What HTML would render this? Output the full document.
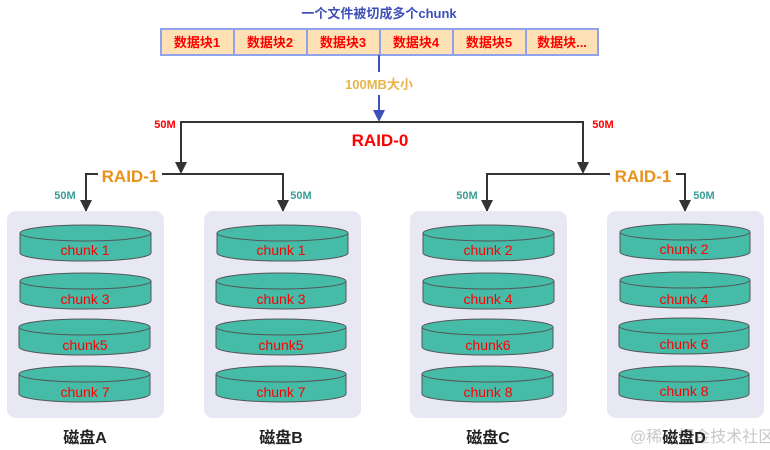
<!DOCTYPE html>
<html><head><meta charset="utf-8"><style>
html,body{margin:0;padding:0;background:#fff;}
svg{display:block;}
text{font-family:"Liberation Sans","Noto Sans CJK SC",sans-serif;}
</style></head><body>
<svg width="770" height="450" viewBox="0 0 770 450" xmlns="http://www.w3.org/2000/svg">
<defs>
<marker id="ab" markerWidth="12" markerHeight="12" refX="6" refY="10" orient="auto" markerUnits="userSpaceOnUse" viewBox="0 0 12 12"><path d="M0,0 L12,0 L6,12 z" fill="#333" transform="rotate(0)"/></marker>
</defs>
<text x="379" y="18" text-anchor="middle" font-size="13" font-weight="bold" fill="#3e4fb8">一个文件被切成多个chunk</text>
<g stroke="#8fa2ee" stroke-width="2" fill="#fde1b4">
<rect x="161" y="29" width="73" height="26"/><rect x="234" y="29" width="73" height="26"/><rect x="307" y="29" width="73" height="26"/><rect x="380" y="29" width="73" height="26"/><rect x="453" y="29" width="73" height="26"/><rect x="526" y="29" width="72" height="26"/>
</g>
<g font-size="13" font-weight="bold" fill="#f00" text-anchor="middle">
<text x="197" y="47">数据块1</text><text x="270" y="47">数据块2</text><text x="343" y="47">数据块3</text><text x="416" y="47">数据块4</text><text x="489" y="47">数据块5</text><text x="562" y="47">数据块...</text>
</g>
<line x1="379" y1="55" x2="379" y2="72" stroke="#3e4fb8" stroke-width="2"/>
<line x1="379" y1="95" x2="379" y2="112" stroke="#3e4fb8" stroke-width="2"/>
<path d="M373,110 L385,110 L379,122 z" fill="#3e4fb8"/>
<text x="379" y="89" text-anchor="middle" font-size="13" font-weight="bold" fill="#e8b54c">100MB大小</text>
<g stroke="#333" stroke-width="2" fill="none">
<path d="M181,172 L181,122 L583,122 L583,172"/>
<path d="M86,211 L86,174 L98,174"/><path d="M162,174 L283,174 L283,211"/>
<path d="M487,211 L487,174 L610,174"/><path d="M676,174 L685,174 L685,211"/>
</g>
<g fill="#333">
<path d="M175,162 L187,162 L181,174 z"/><path d="M577,162 L589,162 L583,174 z"/>
<path d="M80,200 L92,200 L86,212 z"/><path d="M277,200 L289,200 L283,212 z"/>
<path d="M481,200 L493,200 L487,212 z"/><path d="M679,200 L691,200 L685,212 z"/>
</g>
<text x="380" y="146" text-anchor="middle" font-size="17" font-weight="bold" fill="#f00">RAID-0</text>
<text x="165" y="128" text-anchor="middle" font-size="11" font-weight="bold" fill="#f00">50M</text>
<text x="603" y="128" text-anchor="middle" font-size="11" font-weight="bold" fill="#f00">50M</text>
<text x="130" y="182" text-anchor="middle" font-size="17" font-weight="bold" fill="#e8921c">RAID-1</text>
<text x="643" y="182" text-anchor="middle" font-size="17" font-weight="bold" fill="#e8921c">RAID-1</text>
<g font-size="11" font-weight="bold" fill="#3a9e98" text-anchor="middle">
<text x="65" y="199">50M</text><text x="301" y="199">50M</text><text x="467" y="199">50M</text><text x="704" y="199">50M</text>
</g>
<g fill="#e8e8f4">
<rect x="7" y="211" width="157" height="207" rx="9"/><rect x="204" y="211" width="157" height="207" rx="9"/>
<rect x="410" y="211" width="157" height="207" rx="9"/><rect x="607" y="211" width="157" height="207" rx="9"/>
</g>
<g id="cyl" stroke="#444" stroke-width="1" fill="#45bba8">
</g>
<g stroke="#555" stroke-width="1" fill="#45bba8">
<!-- A -->
<path d="M20,233 L20,253 A65,8 0 0 0 151,253 L151,233"/><ellipse cx="85.5" cy="233" rx="65.5" ry="8"/>
<path d="M20,281 L20,301 A65,8 0 0 0 151,301 L151,281"/><ellipse cx="85.5" cy="281" rx="65.5" ry="8"/>
<path d="M19,327 L19,347 A65,8 0 0 0 150,347 L150,327"/><ellipse cx="84.5" cy="327" rx="65.5" ry="8"/>
<path d="M19,374 L19,394 A65,8 0 0 0 150,394 L150,374"/><ellipse cx="84.5" cy="374" rx="65.5" ry="8"/>
<!-- B -->
<path d="M217,233 L217,253 A65,8 0 0 0 348,253 L348,233"/><ellipse cx="282.5" cy="233" rx="65.5" ry="8"/>
<path d="M216,281 L216,301 A65,8 0 0 0 346,301 L346,281"/><ellipse cx="281" cy="281" rx="65" ry="8"/>
<path d="M216,327 L216,347 A65,8 0 0 0 346,347 L346,327"/><ellipse cx="281" cy="327" rx="65" ry="8"/>
<path d="M216,374 L216,394 A65,8 0 0 0 346,394 L346,374"/><ellipse cx="281" cy="374" rx="65" ry="8"/>
<!-- C -->
<path d="M423,233 L423,253 A65,8 0 0 0 554,253 L554,233"/><ellipse cx="488.5" cy="233" rx="65.5" ry="8"/>
<path d="M423,281 L423,301 A65,8 0 0 0 554,301 L554,281"/><ellipse cx="488.5" cy="281" rx="65.5" ry="8"/>
<path d="M422,327 L422,347 A65,8 0 0 0 553,347 L553,327"/><ellipse cx="487.5" cy="327" rx="65.5" ry="8"/>
<path d="M422,374 L422,394 A65,8 0 0 0 553,394 L553,374"/><ellipse cx="487.5" cy="374" rx="65.5" ry="8"/>
<!-- D -->
<path d="M620,232 L620,252 A65,8 0 0 0 750,252 L750,232"/><ellipse cx="685" cy="232" rx="65" ry="8"/>
<path d="M620,280 L620,300 A65,8 0 0 0 750,300 L750,280"/><ellipse cx="685" cy="280" rx="65" ry="8"/>
<path d="M619,326 L619,346 A65,8 0 0 0 749,346 L749,326"/><ellipse cx="684" cy="326" rx="65" ry="8"/>
<path d="M619,374 L619,394 A65,8 0 0 0 749,394 L749,374"/><ellipse cx="684" cy="374" rx="65" ry="8"/>
</g>
<g font-size="14" fill="#f00" text-anchor="middle">
<text x="85" y="255">chunk 1</text><text x="85" y="304">chunk 3</text><text x="85" y="350">chunk5</text><text x="85" y="397">chunk 7</text>
<text x="281" y="255">chunk 1</text><text x="281" y="304">chunk 3</text><text x="281" y="350">chunk5</text><text x="281" y="397">chunk 7</text>
<text x="488" y="255">chunk 2</text><text x="488" y="304">chunk 4</text><text x="488" y="350">chunk6</text><text x="488" y="397">chunk 8</text>
<text x="684" y="254">chunk 2</text><text x="684" y="304">chunk 4</text><text x="684" y="349">chunk 6</text><text x="684" y="396">chunk 8</text>
</g>
<text x="630" y="442" font-size="16" fill="#c8c8c8">@稀土掘金技术社区</text>
<g font-size="16" font-weight="bold" fill="#222" text-anchor="middle">
<text x="85" y="443">磁盘A</text><text x="281" y="443">磁盘B</text><text x="488" y="443">磁盘C</text><text x="684" y="443">磁盘D</text>
</g>
</svg>
</body></html>
